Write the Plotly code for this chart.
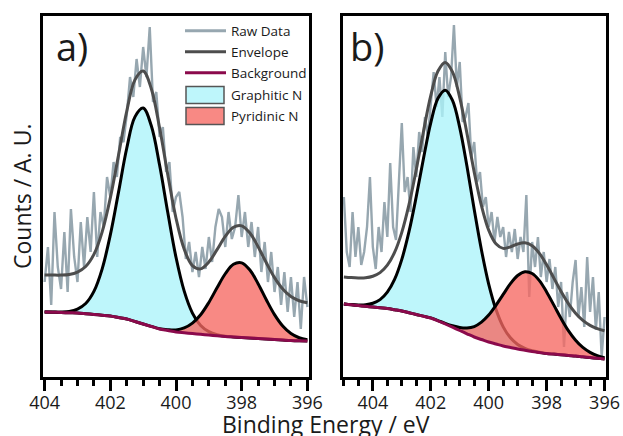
import numpy as np
import plotly.graph_objects as go

W, H = 623, 436

# ---------------- data: panel a ----------------
raw_energy_a = np.round(np.linspace(404.0, 396.0, 81), 2)
raw_a = [95, 130, 72, 165, 110, 88, 145, 85, 168, 120,
         95, 155, 110, 160, 125, 185, 120, 165, 150, 200,
         180, 215, 200, 240, 235, 262, 300, 280, 318, 290,
         330, 300, 350, 275, 285, 240, 250, 205, 215, 165,
         180, 185, 160, 118, 135, 105, 125, 100, 130, 108,
         140, 115, 150, 168, 160, 130, 165, 138, 150, 182,
         140, 165, 130, 155, 120, 150, 105, 135, 95, 125,
         85, 110, 72, 105, 65, 100, 60, 95, 48, 100, 70]
comp_energy_a = np.round(np.linspace(404.0, 396.0, 33), 2)
background_a = [65, 64.8, 64.5, 64.2, 64, 63.3, 62.5, 61.8, 61, 59.5, 58,
                55.5, 53, 50.5, 48, 46.5, 45, 44.2, 43.5, 42.7, 42, 41.2,
                40.5, 40, 39.5, 39, 38.5, 38, 37.5, 37, 36.5, 36.2, 36]
# peak parameters: centre (eV), height, sigma (eV)
graphitic_a = [401.02, 216, 0.70]
pyridinic_a = [398.07, 75, 0.72]
envelope_offset_a = 37

# ---------------- data: panel b ----------------
raw_energy_b = np.round(np.linspace(405.0, 396.0, 91), 2)
raw_b = [180, 125, 110, 165, 120, 150, 112, 125, 150, 200,
         130, 108, 150, 125, 175, 140, 214, 150, 137, 190,
         254, 185, 200, 165, 230, 200, 245, 225, 260, 240,
         275, 305, 270, 300, 260, 325, 280, 300, 352, 290,
         315, 255, 260, 274, 220, 235, 195, 205, 170, 180,
         150, 165, 135, 160, 140, 150, 120, 145, 125, 148,
         118, 140, 125, 182, 80, 135, 110, 140, 100, 125,
         95, 118, 88, 110, 70, 95, 30, 85, 60, 95,
         117, 60, 90, 50, 120, 65, 100, 47, 85, 20, 60]
comp_energy_b = np.round(np.linspace(405.0, 396.0, 37), 2)
background_b = [73, 72.2, 71.5, 70.7, 70, 69.2, 68.5, 67.3, 66, 64.3, 62.5,
                60.8, 59, 56.2, 53, 49.8, 46.5, 43.2, 40, 37.5, 35, 33, 31,
                29.5, 28, 26.7, 25.5, 24.5, 23.5, 22.9, 22.3, 21.6, 21, 20.2,
                19.5, 18.7, 18]
graphitic_b = [401.47, 234, 0.88]
pyridinic_b = [398.65, 79, 0.92]
envelope_offset_b = 27

x_ticks = [404, 402, 400, 398, 396]

# ---------------- style ----------------
RAW_C = "#97a7b0"
ENV_C = "#4d4d4d"
BG_C = "#8b0a4c"
GR_FILL = "rgba(172,243,250,0.78)"
PY_FILL = "rgba(246,104,98,0.78)"
FONT = "Open Sans"
TXT = "#1a1a1a"


def gauss(e, p):
    c, h, s = p
    return h * np.exp(-(np.asarray(e) - c) ** 2 / (2 * s ** 2))


fig = go.Figure()


def add_panel(xa, ya, raw_e, raw, ce, bg, gp, pp, off):
    bg = np.asarray(bg, float)
    g = bg + gauss(ce, gp)
    p = bg + gauss(ce, pp)
    env = bg + gauss(ce, gp) + gauss(ce, pp) + off
    common = dict(xaxis=xa, yaxis=ya, showlegend=False, hoverinfo="skip")
    fig.add_trace(go.Scatter(x=raw_e, y=raw, mode="lines",
                             line=dict(color=RAW_C, width=2.4), **common))
    fig.add_trace(go.Scatter(x=ce, y=env, mode="lines",
                             line=dict(color=ENV_C, width=3, shape="spline"), **common))
    # graphitic fill
    fig.add_trace(go.Scatter(x=ce, y=bg, mode="lines",
                             line=dict(width=0, shape="spline"), **common))
    fig.add_trace(go.Scatter(x=ce, y=g, mode="lines", fill="tonexty",
                             fillcolor=GR_FILL,
                             line=dict(width=0, shape="spline"), **common))
    fig.add_trace(go.Scatter(x=ce, y=g, mode="lines",
                             line=dict(color="black", width=3, shape="spline"), **common))
    # pyridinic fill
    fig.add_trace(go.Scatter(x=ce, y=bg, mode="lines",
                             line=dict(width=0, shape="spline"), **common))
    fig.add_trace(go.Scatter(x=ce, y=p, mode="lines", fill="tonexty",
                             fillcolor=PY_FILL,
                             line=dict(width=0, shape="spline"), **common))
    fig.add_trace(go.Scatter(x=ce, y=p, mode="lines",
                             line=dict(color="black", width=3, shape="spline"), **common))
    fig.add_trace(go.Scatter(x=ce, y=bg, mode="lines",
                             line=dict(color=BG_C, width=3, shape="spline"), **common))


add_panel("x", "y", raw_energy_a, raw_a, comp_energy_a, background_a,
          graphitic_a, pyridinic_a, envelope_offset_a)
add_panel("x2", "y2", raw_energy_b, raw_b, comp_energy_b, background_b,
          graphitic_b, pyridinic_b, envelope_offset_b)


def px(x):
    return x / W


def py(y):
    return 1 - y / H


ydom = [py(377), py(16)]
xaxis_common = dict(
    showline=True, linecolor="black", linewidth=3, mirror=True,
    ticks="outside", ticklen=11, tickwidth=2.5, tickcolor="black",
    tickvals=x_ticks, ticktext=[str(v) for v in x_ticks],
    ticklabelstandoff=-4,
    minor=dict(dtick=0.5, tick0=396, ticks="outside", ticklen=5.5,
               tickwidth=2.5, tickcolor="black", showgrid=False),
    showgrid=False, zeroline=False,
    tickfont=dict(family=FONT, size=18, color=TXT),
    automargin=False,
)
yaxis_common = dict(
    showline=True, linecolor="black", linewidth=3, mirror=True,
    ticks="", showticklabels=False, showgrid=False, zeroline=False,
    range=[0, 361], automargin=False, domain=ydom,
)

fig.update_layout(
    width=W, height=H,
    margin=dict(l=0, r=0, t=0, b=0),
    paper_bgcolor="white", plot_bgcolor="white",
    showlegend=False,
    xaxis=dict(domain=[px(43), px(309)], range=[404.05, 395.95], **xaxis_common),
    xaxis2=dict(domain=[px(343), px(606)], range=[405.03, 395.95], anchor="y2",
                **xaxis_common),
    yaxis=dict(anchor="x", **yaxis_common),
    yaxis2=dict(anchor="x2", **yaxis_common),
)

ann = []
shapes = []
centered = dict(xref="paper", yref="paper", xanchor="center", yanchor="middle",
                showarrow=False)
# panel labels
ann.append(dict(text="a)", x=px(72), y=py(46),
                font=dict(family=FONT, size=38, color=TXT), **centered))
ann.append(dict(text="b)", x=px(367), y=py(46),
                font=dict(family=FONT, size=38, color=TXT), **centered))
# axis titles
ann.append(dict(text="Binding Energy / eV", x=px(326), y=py(424),
                font=dict(family=FONT, size=23, color=TXT), **centered))
ann.append(dict(text="Counts / A. U.", x=px(22), y=py(197), textangle=-90,
                font=dict(family=FONT, size=23, color=TXT), **centered))

# legend (drawn)
legend_items = [
    ("Raw Data", "line", RAW_C, 30.7),
    ("Envelope", "line", ENV_C, 51.7),
    ("Background", "line", BG_C, 72.7),
    ("Graphitic N", "box", GR_FILL, 95),
    ("Pyridinic N", "box", PY_FILL, 116),
]
for label, kind, col, yc in legend_items:
    if kind == "line":
        shapes.append(dict(type="line", xref="paper", yref="paper",
                           x0=px(185), x1=px(226), y0=py(yc), y1=py(yc),
                           line=dict(color=col, width=3)))
    else:
        shapes.append(dict(type="rect", xref="paper", yref="paper",
                           x0=px(186), x1=px(224), y0=py(yc - 8.5), y1=py(yc + 8.5),
                           fillcolor=col, line=dict(color="#555555", width=1.5)))
    ann.append(dict(text=label, x=px(228.5), y=py(yc), xref="paper", yref="paper",
                    xanchor="left", yanchor="middle", showarrow=False,
                    font=dict(family=FONT, size=13.5, color=TXT)))

fig.update_layout(annotations=ann, shapes=shapes)
fig.write_html("out.html")
